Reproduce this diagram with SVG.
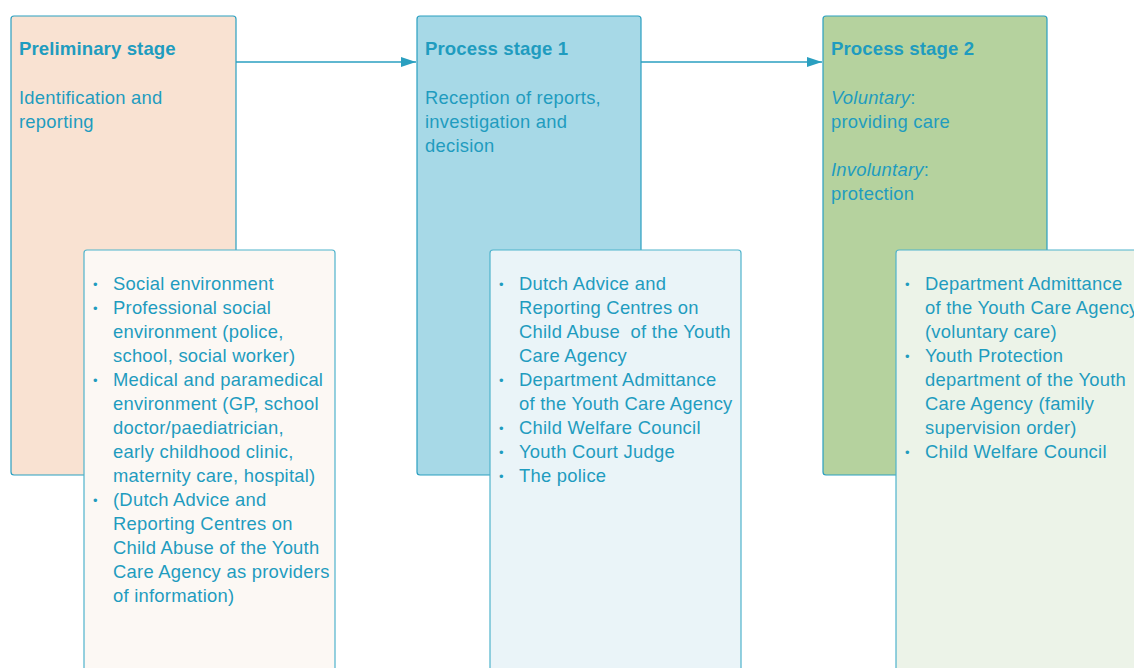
<svg xmlns="http://www.w3.org/2000/svg" width="1134" height="668" viewBox="0 0 1134 668">
  <style>
    .stage { stroke: #2a9fc0; stroke-width: 1.2; }
    .list { stroke: #4fb3cc; stroke-width: 1.2; }
    text { font-family: "Liberation Sans", Arial, sans-serif; font-size: 18.4px; letter-spacing: 0.25px; fill: #1f9cbf; }
    .title { font-weight: bold; font-size: 18.6px; letter-spacing: 0.1px; }
    .it { font-style: italic; }
    .bullet { font-size: 13px; letter-spacing: 0; }
    .conn { stroke: #2a9fc0; stroke-width: 1.5; fill: none; }
  </style>
  <defs>
    <marker id="arrow" markerWidth="15" markerHeight="10" refX="15" refY="5" orient="auto" markerUnits="userSpaceOnUse">
      <path d="M0,0 L15,5 L0,10 Z" fill="#2a9fc0"/>
    </marker>
  </defs>

  <rect width="1134" height="668" fill="#ffffff"/>

  <!-- Stage boxes -->
  <g id="preliminary-stage">
    <rect class="stage" x="11" y="16" width="225" height="459" rx="3" fill="#f9e2d2"/>
    <text class="title" x="19" y="55">Preliminary stage</text>
    <text x="19" y="104">Identification and</text>
    <text x="19" y="128">reporting</text>
  </g>

  <g id="process-stage-1">
    <rect class="stage" x="417" y="16" width="224" height="459" rx="3" fill="#a7d9e7"/>
    <text class="title" x="425" y="55">Process stage 1</text>
    <text x="425" y="104">Reception of reports,</text>
    <text x="425" y="128">investigation and</text>
    <text x="425" y="152">decision</text>
  </g>

  <g id="process-stage-2">
    <rect class="stage" x="823" y="16" width="224" height="459" rx="3" fill="#b5d29e"/>
    <text class="title" x="831" y="55">Process stage 2</text>
    <text x="831" y="104"><tspan class="it">Voluntary</tspan>:</text>
    <text x="831" y="128">providing care</text>
    <text x="831" y="176"><tspan class="it">Involuntary</tspan>:</text>
    <text x="831" y="200">protection</text>
  </g>

  <!-- Actor lists -->
  <g id="preliminary-actors">
    <rect class="list" x="84" y="250" width="251" height="440" rx="3" fill="#fcf8f4"/>
    <text class="bullet" x="93" y="289">•</text>
    <text x="113" y="290">Social environment</text>
    <text class="bullet" x="93" y="313">•</text>
    <text x="113" y="314">Professional social</text>
    <text x="113" y="338">environment (police,</text>
    <text x="113" y="362">school, social worker)</text>
    <text class="bullet" x="93" y="385">•</text>
    <text x="113" y="386">Medical and paramedical</text>
    <text x="113" y="410">environment (GP, school</text>
    <text x="113" y="434">doctor/paediatrician,</text>
    <text x="113" y="458">early childhood clinic,</text>
    <text x="113" y="482">maternity care, hospital)</text>
    <text class="bullet" x="93" y="505">•</text>
    <text x="113" y="506">(Dutch Advice and</text>
    <text x="113" y="530">Reporting Centres on</text>
    <text x="113" y="554">Child Abuse of the Youth</text>
    <text x="113" y="578">Care Agency as providers</text>
    <text x="113" y="602">of information)</text>
  </g>

  <g id="stage1-actors">
    <rect class="list" x="490" y="250" width="251" height="440" rx="3" fill="#eaf4f8"/>
    <text class="bullet" x="499" y="289">•</text>
    <text x="519" y="290">Dutch Advice and</text>
    <text x="519" y="314">Reporting Centres on</text>
    <text x="519" y="338" xml:space="preserve">Child Abuse  of the Youth</text>
    <text x="519" y="362">Care Agency</text>
    <text class="bullet" x="499" y="385">•</text>
    <text x="519" y="386">Department Admittance</text>
    <text x="519" y="410">of the Youth Care Agency</text>
    <text class="bullet" x="499" y="433">•</text>
    <text x="519" y="434">Child Welfare Council</text>
    <text class="bullet" x="499" y="457">•</text>
    <text x="519" y="458">Youth Court Judge</text>
    <text class="bullet" x="499" y="481">•</text>
    <text x="519" y="482">The police</text>
  </g>

  <g id="stage2-actors">
    <rect class="list" x="896" y="250" width="260" height="440" rx="3" fill="#ecf3e8"/>
    <text class="bullet" x="905" y="289">•</text>
    <text x="925" y="290">Department Admittance</text>
    <text x="925" y="314">of the Youth Care Agency</text>
    <text x="925" y="338">(voluntary care)</text>
    <text class="bullet" x="905" y="361">•</text>
    <text x="925" y="362">Youth Protection</text>
    <text x="925" y="386">department of the Youth</text>
    <text x="925" y="410">Care Agency (family</text>
    <text x="925" y="434">supervision order)</text>
    <text class="bullet" x="905" y="457">•</text>
    <text x="925" y="458">Child Welfare Council</text>
  </g>

  <!-- Connectors -->
  <g id="connectors">
    <line class="conn" x1="236" y1="62" x2="416" y2="62" marker-end="url(#arrow)"/>
    <line class="conn" x1="641" y1="62" x2="822" y2="62" marker-end="url(#arrow)"/>
  </g>
</svg>
